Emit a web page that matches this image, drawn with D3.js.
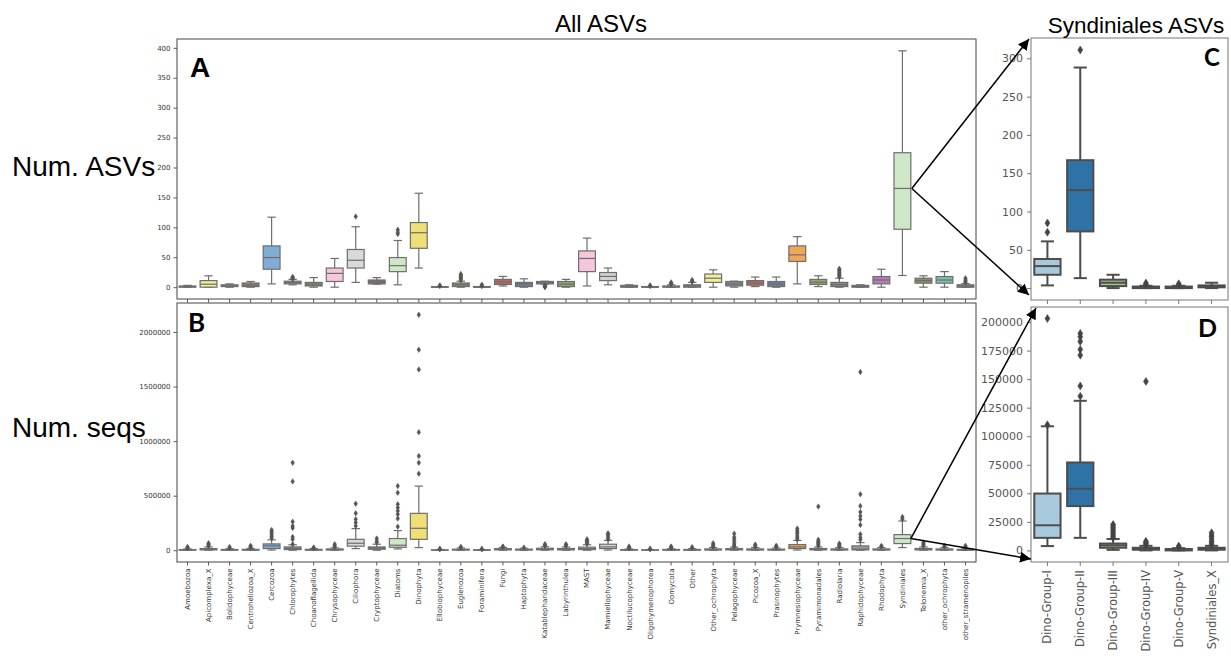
<!DOCTYPE html>
<html><head><meta charset="utf-8">
<script src="https://cdn.jsdelivr.net/npm/d3@7"></script>
<style>body{margin:0;background:#fff} svg{display:block}</style>
</head><body><svg id="c" width="1231" height="656"></svg>
<script>
// ---------------- DATA ----------------
const taxa = ["Amoebozoa","Apicomplexa_X","Bolidophyceae","Centroheliozoa_X","Cercozoa","Chlorophytes","Choanoflagellida","Chrysophyceae","Ciliophora","Cryptophyceae","Diatoms","Dinophyta","Ellobiophyceae","Euglenozoa","Foraminifera","Fungi","Haptophyta","Katablepharidaceae","Labyrinthulea","MAST","Mamiellophyceae","Noctilucophyceae","Oligohymenophorea","Oomycota","Other","Other_ochrophyta","Pelagophyceae","Picozoa_X","Prasinophytes","Prymnesiophyceae","Pyramimonadales","Radiolaria","Raphidophyceae","Rhodophyta","Syndiniales","Telonemia_X","other_ochrophyta","other_stramenopiles"];

const taxaColors = ["#857a7a","#f0ee9a","#8a8a8a","#9e7a6e","#7fadd3","#8c8c80","#7f8f66","#f5c6dc","#d9d9d9","#7a7080","#cfe8c8","#efdf77","#777777","#8a8a6a","#777777","#c0665a","#6b7f99","#7a7a7a","#8fa86a","#f5c6dc","#d2d2d2","#777777","#777777","#777777","#7a7a7a","#f0ee9a","#888888","#c0665a","#6b7f99","#f0a858","#8fa86a","#888888","#999999","#b57cb6","#cfe8c8","#8f8a66","#7fbfb0","#777777"];

// [lower whisker, q1, median, q3, upper whisker]
const asvStats = [[0,0,1,2,3],[0,0,5,11,19],[0,1,2,4,5.5],[0,1,3.5,7,9.5],[5.5,30,49.5,69,117],[4,5.5,8,10,13],[0,2,5,8,16],[0,9.5,23,32,48],[8,32,45,63,101],[5,5.5,8.3,12,16],[4,26,36,49.5,78],[32,65,91,108,157],[0,0,0,1,1],[0,1,4,7,10],[0,0,0,1,1],[2,4.5,9,13,18],[0,1,5.5,8,14],[5,5.5,8,9.5,10],[0,1,5,9.5,13],[2,26,48,60.6,82],[4,11,18,24.5,32],[0,0,1,3,4],[0,0,0,1,1],[0,0,1,2,4],[0,0,2,4,8],[0,8,15,22,29],[0,2,5.5,9.5,10],[1,3.3,6.7,11,17],[0,1,5,9.5,17],[5.5,43,54,69,84.5],[1,4.5,8.3,13,19],[0,1,4,8,15],[0,0,1,3,4],[0,5.5,12,17.8,30],[19.5,96.8,165,224.7,395],[0,6.7,11,15,19],[0,6.7,12,17.8,26],[0,0,1,4,6]];
const asvOutliers = [[],[],[],[],[],[14,15,16,17],[],[],[118],[],[89,92,96],[],[2,3],[12,14,16,18,20,22],[2,3,4],[],[],[0,1,2,3],[],[],[],[],[2,3],[5,6,8],[9,10,12],[],[],[],[],[],[],[17,19,21,23,25,27,29,30.6],[],[],[],[],[],[8,10,12,15]];

const seqStats = [[0,1000,3000,6000,12000],[0,3000,8000,15000,30000],[0,1000,3000,7000,14000],[0,1000,4000,8000,16000],[2000,15000,40000,58000,95000],[0,6000,15000,30000,50000],[0,1000,4000,8000,15000],[0,2000,6000,12000,22000],[15000,37000,64000,100000,198000],[0,9000,18000,30000,55000],[12000,27000,46000,107000,180000],[24000,100000,201000,338000,588000],[0,0,1000,3000,6000],[0,2000,5000,10000,20000],[0,0,1000,3000,6000],[0,3000,8000,14000,25000],[0,2000,5000,10000,18000],[0,4000,10000,18000,32000],[0,3000,8000,16000,30000],[0,6000,15000,28000,50000],[2000,15000,30000,55000,90000],[0,1000,3000,6000,12000],[0,0,1000,3000,6000],[0,1000,3000,7000,14000],[0,1000,3000,7000,14000],[0,2000,6000,12000,24000],[0,3000,8000,15000,28000],[0,2000,6000,12000,24000],[0,2000,5000,10000,20000],[2000,15000,30000,52000,90000],[0,3000,8000,16000,30000],[0,2000,6000,12000,24000],[0,3000,10000,40000,70000],[0,2000,6000,12000,24000],[24000,61000,107000,143000,268000],[0,3000,8000,16000,30000],[0,2000,6000,12000,24000],[0,1000,3000,7000,14000]];
const seqOutliers = [[18000,24000,30000],[38000,46000,55000,64000],[20000,30000],[24000,32000,40000],[110000,125000,140000,155000,170000,186000],[55000,100000,122000,204000,222000,262000,631000,802000],[20000,24000],[30000,40000,55000],[222000,253000,283000,338000,427000],[70000,85000,107000],[216000,290000,329000,360000,390000,421000,527000,588000],[701000,802000,863000,1082000,1656000,1838000,2158000],[10000,14000],[25000,30000],[9000,12000],[30000,34000],[24000],[40000,48000,55000],[40000,48000,55000],[60000,70000,80000,90000,100000],[100000,115000,130000,145000,155000],[18000,25000,34000],[9000,14000],[20000,28000,34000],[20000,28000],[32000,40000,50000,64000],[36000,46000,60000,80000,100000,120000,152000],[32000,42000,52000],[28000,34000,40000],[100000,115000,130000,150000,165000,180000,198000],[40000,50000,60000,70000,80000,95000,400000],[32000,40000,50000,61000],[95000,116000,146000,232000,283000,314000,350000,405000,512000,1634000],[32000,40000],[285000,305000],[40000,50000,60000,70000],[32000,40000],[20000,30000,40000]];

const synGroups = ["Dino-Group-I","Dino-Group-II","Dino-Group-III","Dino-Group-IV","Dino-Group-V","Syndiniales_X"];
const synColors = ["#a9c9dd","#2f72a5","#a3c98a","#4f8a45","#e0a3a2","#c04a4a"];
const synAsvStats = [[3.5,17.4,28.7,38,61],[13,74,128,167,288],[0,2.6,7,11,17.4],[0,0,1,2,3],[0,0,1,2,3],[0,1,2,3.5,7]];
const synAsvOutliers = [[73,85],[311],[],[4,5,6.5],[4,5.6],[]];
const synSeqStats = [[3800,11000,22000,49800,108700],[11000,38800,54000,77000,131000],[500,2300,4400,6000,10000],[0,600,1200,2300,4000],[0,0,500,1200,2000],[0,600,1200,2300,4000]];
const synSeqOutliers = [[110000,203000],[135000,144000,171000,176000,183000,187000,190000],[11000,12500,14000,15500,17000,18500,20000,21500,22700],[5000,6000,7000,8000,148000],[2800,3800],[5000,6500,8000,10000,12000,13500,15500]];

const asvTicks = [0,50,100,150,200,250,300,350,400];
const seqTicks = [0,500000,1000000,1500000,2000000];
const synAsvTicks = [0,50,100,150,200,250,300];
const synSeqTicks = [0,25000,50000,75000,100000,125000,150000,175000,200000];

// ---------------- DRAW ----------------
const svg = d3.select("#c");

function panel(o){
  const g = svg.append("g");
  const x = d3.scaleBand().domain(o.cats).range([o.x0,o.x1]).padding(0);
  const all = o.stats.flat().concat(o.outliers.flat());
  const mn = d3.min(all), mx = d3.max(all), pad = (mx-mn)*0.05;
  const y = d3.scaleLinear().domain([mn-pad, mx+pad]).range([o.y1,o.y0]);
  // y axis
  const ya = d3.axisLeft(y).tickValues(o.yticks).tickSize(o.tick).tickPadding(o.tpad).tickFormat(d3.format("d"));
  const yg = g.append("g").attr("transform",`translate(${o.x0},0)`).call(ya);
  yg.select(".domain").remove();
  yg.selectAll("line").attr("stroke",o.axisColor).attr("stroke-width",0.8);
  yg.selectAll("text").attr("font-family","DejaVu Sans").attr("font-size",o.fs).attr("fill",o.textColor);
  // x axis
  const xa = d3.axisBottom(x).tickSize(o.tick).tickPadding(o.tpad);
  const xg = g.append("g").attr("transform",`translate(0,${o.y1})`).call(xa);
  xg.select(".domain").remove();
  xg.selectAll("line").attr("stroke",o.axisColor).attr("stroke-width",0.8);
  if(o.xlabels){
    xg.selectAll("text").attr("font-family","DejaVu Sans").attr("font-size",o.xfs).attr("fill",o.textColor)
      .attr("text-anchor","end").attr("dy","0.35em")
      .attr("transform",`translate(0,${o.tick+o.tpad}) rotate(-90)`).attr("x",0).attr("y",0);
  } else xg.selectAll("text").remove();
  // boxes
  const bw = x.bandwidth()*0.8;
  o.cats.forEach((c,i)=>{
    const s = o.stats[i], cx = x(c)+x.bandwidth()/2;
    const b = g.append("g").attr("stroke",o.lineColor).attr("stroke-width",o.lw);
    b.append("line").attr("x1",cx).attr("x2",cx).attr("y1",y(s[3])).attr("y2",y(s[4]));
    b.append("line").attr("x1",cx).attr("x2",cx).attr("y1",y(s[1])).attr("y2",y(s[0]));
    b.append("line").attr("x1",cx-bw/4).attr("x2",cx+bw/4).attr("y1",y(s[4])).attr("y2",y(s[4]));
    b.append("line").attr("x1",cx-bw/4).attr("x2",cx+bw/4).attr("y1",y(s[0])).attr("y2",y(s[0]));
    b.append("rect").attr("x",cx-bw/2).attr("width",bw).attr("y",y(s[3])).attr("height",Math.max(0,y(s[1])-y(s[3]))).attr("fill",o.colors[i]);
    b.append("line").attr("x1",cx-bw/2).attr("x2",cx+bw/2).attr("y1",y(s[2])).attr("y2",y(s[2]));
    o.outliers[i].forEach(v=>{
      const yy = y(v), h=o.dh, w=o.dw;
      g.append("path").attr("d",`M${cx},${yy-h/2}L${cx+w/2},${yy}L${cx},${yy+h/2}L${cx-w/2},${yy}Z`)
        .attr("fill",o.outColor).attr("stroke",o.outColor).attr("stroke-width",0.5);
    });
  });
  // frame
  g.append("rect").attr("x",o.x0).attr("y",o.y0).attr("width",o.x1-o.x0).attr("height",o.y1-o.y0)
    .attr("fill","none").attr("stroke",o.frameColor).attr("stroke-width",1);
  return {x,y,bw};
}

const common = {tick:3.5,tpad:3,fs:7,xfs:7,axisColor:"#333",textColor:"#333",lineColor:"#6e6e6e",lw:1.2,outColor:"#555",dw:3.6,dh:5.5,frameColor:"#444"};
const A = panel(Object.assign({},common,{cats:taxa,stats:asvStats,outliers:asvOutliers,colors:taxaColors,yticks:asvTicks,x0:177,x1:976,y0:39,y1:299,xlabels:false}));
const B = panel(Object.assign({},common,{cats:taxa,stats:seqStats,outliers:seqOutliers,colors:taxaColors,yticks:seqTicks,x0:177,x1:976,y0:303,y1:562,xlabels:true}));
const commonS = {tick:4,tpad:4,fs:11,xfs:11.5,axisColor:"#555",textColor:"#555",lineColor:"#4d4d4d",lw:2,outColor:"#444",dw:5,dh:8,frameColor:"#777"};
const C = panel(Object.assign({},commonS,{cats:synGroups,stats:synAsvStats,outliers:synAsvOutliers,colors:synColors,yticks:synAsvTicks,x0:1031,x1:1228,y0:38,y1:300,xlabels:false}));
const D = panel(Object.assign({},commonS,{cats:synGroups,stats:synSeqStats,outliers:synSeqOutliers,colors:synColors,yticks:synSeqTicks,x0:1031,x1:1228,y0:307,y1:562,xlabels:true}));

// ---------------- TEXT ----------------
function txt(t,x,y,fs,opts={}){
  svg.append("text").attr("x",x).attr("y",y).text(t)
    .attr("font-family",opts.ff||"Liberation Sans, Arial, sans-serif").attr("font-size",fs)
    .attr("font-weight",opts.fw||"normal").attr("fill",opts.fill||"#000").attr("text-anchor",opts.anchor||"start");
}
txt("All ASVs",601,32,24,{anchor:"middle"});
txt("Syndiniales ASVs",1136,33,22.5,{anchor:"middle"});
txt("Num. ASVs",12,176,28);
txt("Num. seqs",12,437,28);
txt("A",190,77,28,{fw:"bold"});
txt("B",188,332,26,{fw:"bold",ff:"Lato"});
txt("C",1220,66,24,{fw:"bold",ff:"Lato",anchor:"end"});
txt("D",1217,337,25,{fw:"bold",ff:"Lato",anchor:"end"});
txt("Taxa",576,661,7,{ff:"DejaVu Sans",fill:"#333",anchor:"middle"});

// ---------------- ARROWS ----------------
const defs = svg.append("defs");
defs.append("marker").attr("id","ah").attr("viewBox","0 0 10 10").attr("refX",10).attr("refY",5)
  .attr("markerWidth",7).attr("markerHeight",7).attr("markerUnits","userSpaceOnUse").attr("orient","auto")
  .append("path").attr("d","M0,0L10,5L0,10Z").attr("fill","#000");
defs.select("marker").attr("markerWidth",11).attr("markerHeight",11);
const si = taxa.indexOf("Syndiniales");
const ax = A.x(taxa[si]) + A.x.bandwidth()/2 + A.bw/2 + 1, ay = A.y(asvStats[si][2]);
const bx = B.x(taxa[si]) + B.x.bandwidth()/2 + B.bw/2, by = B.y(seqStats[si][2]);
function arrow(x1,y1,x2,y2){
  svg.append("line").attr("x1",x1).attr("y1",y1).attr("x2",x2).attr("y2",y2)
    .attr("stroke","#000").attr("stroke-width",1.5).attr("marker-end","url(#ah)");
}
arrow(ax,ay,1029,39);
arrow(ax,ay,1029,295);
arrow(bx,by,1036,308);
arrow(bx,by,1031,559);
</script></body></html>
